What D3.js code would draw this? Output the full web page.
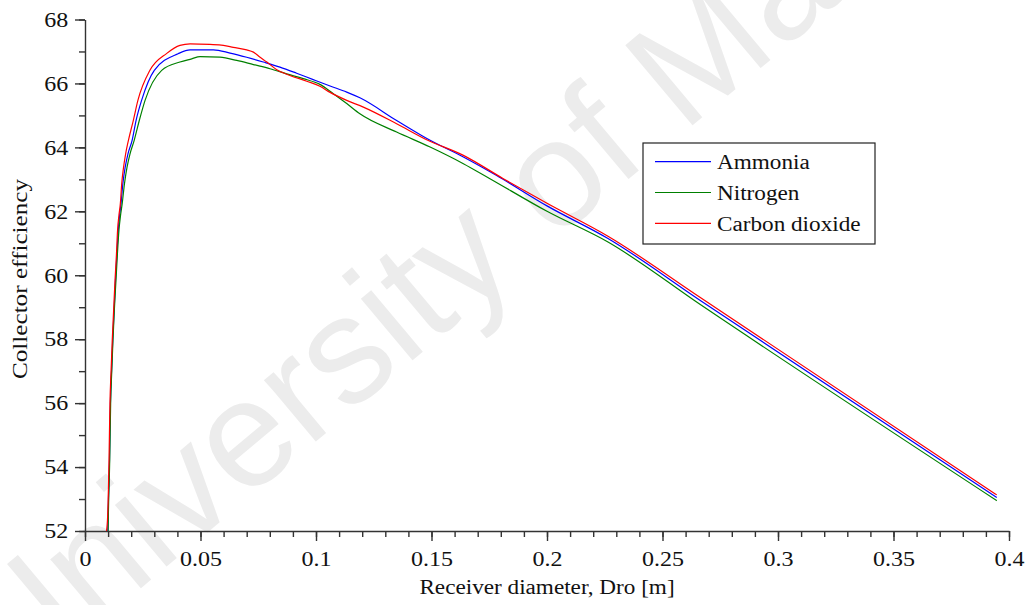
<!DOCTYPE html>
<html>
<head>
<meta charset="utf-8">
<script src="https://cdn.jsdelivr.net/npm/d3@7"></script>
<style>
  body { margin: 0; background: #fff; }
  svg text { font-family: "Liberation Serif", "Times New Roman", serif; }
</style>
</head>
<body>
<div id="chart"></div>
<script>
// values: [receiver diameter (m), collector efficiency]
const ammonia = [
  [0.0099, 52], [0.0100, 52.45], [0.0106, 54.22], [0.0110, 55.99], [0.0115, 57.03],
  [0.0120, 57.97], [0.0126, 58.91], [0.0132, 59.84], [0.0138, 60.63], [0.0144, 61.41],
  [0.0150, 61.88], [0.0156, 62.24], [0.0164, 62.87], [0.0174, 63.38], [0.0186, 63.8],
  [0.0204, 64.22], [0.0221, 64.84], [0.0245, 65.47], [0.0300, 66.41], [0.0403, 66.93],
  [0.0455, 67.05], [0.0556, 67.05], [0.0628, 66.95], [0.0700, 66.82], [0.0772, 66.67],
  [0.0844, 66.51], [0.0916, 66.32], [0.0988, 66.12], [0.1061, 65.92], [0.1133, 65.73],
  [0.1190, 65.55], [0.1349, 64.84], [0.1494, 64.22], [0.1638, 63.70], [0.1782, 63.12],
  [0.2000, 62.17], [0.2264, 61.15], [0.2662, 59.22], [0.3947, 53.05]
]
const nitrogen = [
  [0.0100, 52], [0.0101, 52.45], [0.0107, 54.22], [0.0111, 55.99], [0.0116, 57.03],
  [0.0121, 57.97], [0.0127, 58.91], [0.0134, 59.84], [0.0140, 60.63], [0.0147, 61.41],
  [0.0154, 61.88], [0.0161, 62.24], [0.0171, 62.87], [0.0182, 63.38], [0.0195, 63.8],
  [0.0213, 64.22], [0.0235, 64.84], [0.0260, 65.47], [0.0332, 66.41], [0.0411, 66.67],
  [0.0462, 66.77], [0.0498, 66.84], [0.0584, 66.82], [0.0657, 66.72], [0.0729, 66.59],
  [0.0801, 66.46], [0.0873, 66.30], [0.0945, 66.15], [0.1017, 65.97], [0.1075, 65.68],
  [0.1133, 65.37], [0.1190, 65.05], [0.1349, 64.48], [0.1494, 64.01], [0.1638, 63.49],
  [0.1753, 63.02], [0.2000, 62.00], [0.2264, 61.04], [0.2662, 59.09], [0.3947, 52.95]
]
const carbonDioxide = [
  [0.0093, 52], [0.0098, 52.45], [0.0104, 54.22], [0.0108, 55.99], [0.0113, 57.03],
  [0.0118, 57.97], [0.0124, 58.91], [0.0130, 59.84], [0.0136, 60.63], [0.0141, 61.41],
  [0.0147, 61.88], [0.0153, 62.24], [0.0159, 62.87], [0.0167, 63.38], [0.0176, 63.8],
  [0.0188, 64.22], [0.0209, 64.84], [0.0229, 65.47], [0.0281, 66.41], [0.0354, 66.94],
  [0.0411, 67.19], [0.0455, 67.24], [0.0541, 67.22], [0.0599, 67.19], [0.0642, 67.13],
  [0.0700, 67.05], [0.0729, 66.98], [0.0758, 66.82], [0.0787, 66.67], [0.0830, 66.43],
  [0.0887, 66.25], [0.0960, 66.07], [0.1017, 65.91], [0.1061, 65.72], [0.1133, 65.47],
  [0.1205, 65.26], [0.1349, 64.74], [0.1479, 64.24], [0.1638, 63.75], [0.1811, 63.02],
  [0.2000, 62.25], [0.2264, 61.22], [0.2662, 59.31], [0.3947, 53.13]
]

const seriesNames = ['Ammonia', 'Nitrogen', 'Carbon dioxide']
const seriesColors = ['#0000ff', '#008000', '#ff0000']
const xMajor = [0, 0.05, 0.1, 0.15, 0.2, 0.25, 0.3, 0.35, 0.4]
const xMinor = d3.range(0, 41).map(i => i / 100)
const yMajor = [52, 54, 56, 58, 60, 62, 64, 66, 68]
const yMinor = d3.range(52, 69)

const width = 1034, height = 605
const plot = {left: 85, right: 1009, top: 19.5, bottom: 531}
const stretch = 1.2

const x = d3.scaleLinear().domain([0, 0.4]).range([plot.left, plot.right])
const y = d3.scaleLinear().domain([52, 68]).range([plot.bottom, plot.top])

const svg = d3.select('#chart').append('svg')
  .attr('width', width)
  .attr('height', height)

// faint watermark behind the plot (runs off the page, as in the source)
svg.append('text')
  .attr('transform', 'translate(10,698) rotate(-40)')
  .style('font-family', '"Liberation Sans", Arial, sans-serif')
  .attr('font-size', 152)
  .attr('fill', '#ececec')
  .text('University of Malaya')

svg.append('clipPath').attr('id', 'plot-clip')
  .append('rect')
  .attr('x', plot.left).attr('y', plot.top - 2)
  .attr('width', plot.right - plot.left).attr('height', plot.bottom - plot.top + 2)

// minor ticks
svg.append('g')
  .attr('transform', `translate(0,${plot.bottom})`)
  .call(d3.axisBottom(x).tickValues(xMinor).tickSize(6).tickFormat(''))
  .call(g => g.select('.domain').remove())
svg.append('g')
  .attr('transform', `translate(${plot.left},0)`)
  .call(d3.axisLeft(y).tickValues(yMinor).tickSize(6).tickFormat(''))
  .call(g => g.select('.domain').remove())

const xAxis = svg.append('g')
  .attr('transform', `translate(0,${plot.bottom})`)
  .call(d3.axisBottom(x).tickValues(xMajor).tickSizeInner(10).tickSizeOuter(0)
    .tickFormat(d => String(d)))
xAxis.selectAll('text')
  .attr('y', 35).attr('dy', 0)
  .attr('transform', `scale(${stretch},1)`)

const yAxis = svg.append('g')
  .attr('transform', `translate(${plot.left},0)`)
  .call(d3.axisLeft(y).tickValues(yMajor).tickSizeInner(10).tickSizeOuter(0))
yAxis.selectAll('text')
  .attr('x', -14).attr('dy', '0.34em')
  .attr('transform', `scale(${stretch},1)`)

svg.selectAll('.tick line, .domain').attr('stroke', '#333').attr('stroke-width', 1.4)
svg.selectAll('.tick text').attr('font-size', 20).attr('fill', '#111')
svg.selectAll('g').attr('font-family', null)

svg.append('text')
  .attr('transform', `translate(${(plot.left + plot.right) / 2},594) scale(1.16,1)`)
  .attr('text-anchor', 'middle')
  .attr('font-size', 20)
  .attr('fill', '#111')
  .text('Receiver diameter, Dro [m]')

svg.append('text')
  .attr('transform', 'translate(27,279) rotate(-90) scale(1.26,1)')
  .attr('text-anchor', 'middle')
  .attr('font-size', 20)
  .attr('fill', '#111')
  .text('Collector efficiency')

const line = d3.line()
  .x(d => x(d[0]))
  .y(d => y(d[1]))
  .curve(d3.curveMonotoneX)

const seriesData = [ammonia, nitrogen, carbonDioxide]
svg.append('g').attr('clip-path', 'url(#plot-clip)')
  .selectAll('path')
  .data(seriesData)
  .enter().append('path')
  .attr('d', line)
  .attr('fill', 'none')
  .attr('stroke', (d, i) => seriesColors[i])
  .attr('stroke-width', 1.2)

// legend
const legend = svg.append('g').attr('transform', 'translate(643,143)')
legend.append('rect')
  .attr('width', 232).attr('height', 101)
  .attr('fill', '#fff')
  .attr('stroke', '#222')
  .attr('stroke-width', 1.2)

const rows = legend.selectAll('.row')
  .data(seriesNames)
  .enter().append('g')
  .attr('class', 'row')
  .attr('transform', (d, i) => `translate(0,${18.7 + i * 30.8})`)
rows.append('line')
  .attr('x1', 12).attr('x2', 68)
  .attr('stroke', (d, i) => seriesColors[i])
  .attr('stroke-width', 1.2)
rows.append('text')
  .attr('transform', `translate(74,7.5) scale(1.16,1)`)
  .attr('font-size', 20)
  .attr('fill', '#111')
  .text(d => d)
</script>
</body>
</html>
